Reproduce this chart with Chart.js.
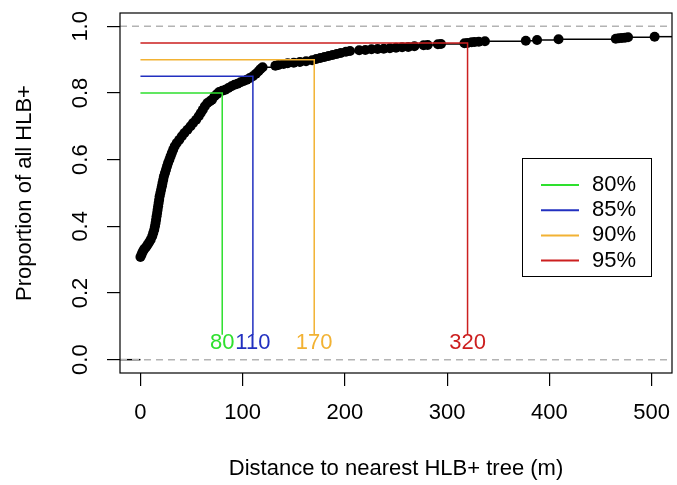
<!DOCTYPE html>
<html>
<head>
<meta charset="utf-8">
<script src="https://cdn.jsdelivr.net/npm/chart.js@4.4.0/dist/chart.umd.min.js"></script>
<style>
html, body { margin: 0; padding: 0; background: #fff; }
#wrap { width: 677px; height: 485px; }
</style>
</head>
<body>
<div id="wrap"><canvas id="ecdfChart" width="677" height="485"></canvas></div>
<script>
// ECDF of distance to nearest HLB+ tree
var distX = [0, 1, 2, 3, 4, 5.5, 7, 8.5, 10, 11.5, 12.5, 13.5, 14.2, 14.8, 15.3, 15.8, 16.3, 16.8, 17.3, 17.8,
  18.3, 18.8, 19.5, 20.2, 21, 21.6, 22.3, 23, 24, 25, 26, 27, 28.3, 29.5, 30.7, 32, 33.5, 35.5, 38, 40.5,
  43, 46, 49, 51.5, 54.5, 57, 59, 61, 63, 65.5, 68, 70, 72.5, 75, 77, 80, 83, 86, 89, 92,
  95, 98, 101, 104, 107, 110, 113, 115.5, 117.5, 119.5, 132, 135, 140, 144, 150, 156, 162, 168, 172, 176,
  180, 184, 188, 192, 196, 201, 205, 214, 220, 226, 232, 238, 244, 250, 256, 262, 268, 277, 281, 291,
  294, 317, 320, 324, 327, 331, 337, 377, 388, 409, 465, 468, 471, 474, 477, 503];
var propY = [0.308, 0.315, 0.322, 0.328, 0.333, 0.338, 0.345, 0.352, 0.36, 0.37, 0.38, 0.39, 0.40, 0.41, 0.42, 0.43, 0.44, 0.45, 0.46, 0.47,
  0.48, 0.49, 0.50, 0.51, 0.52, 0.53, 0.54, 0.55, 0.56, 0.57, 0.58, 0.59, 0.60, 0.61, 0.62, 0.63, 0.64, 0.65, 0.66, 0.67,
  0.68, 0.69, 0.70, 0.71, 0.72, 0.73, 0.74, 0.75, 0.76, 0.77, 0.775, 0.78, 0.79, 0.797, 0.803, 0.807, 0.81, 0.815, 0.82, 0.825,
  0.828, 0.832, 0.836, 0.84, 0.845, 0.85, 0.858, 0.865, 0.872, 0.877, 0.882, 0.884, 0.887, 0.889, 0.891, 0.893, 0.895, 0.898, 0.902, 0.905,
  0.908, 0.911, 0.914, 0.917, 0.92, 0.924, 0.926, 0.928, 0.929, 0.931, 0.932, 0.933, 0.934, 0.936, 0.937, 0.938, 0.94, 0.943, 0.944, 0.946,
  0.947, 0.949, 0.95, 0.952, 0.953, 0.954, 0.955, 0.957, 0.959, 0.961, 0.963, 0.964, 0.965, 0.966, 0.967, 0.969];

// percentile cut-offs
var levels = [0.80, 0.85, 0.90, 0.95];
var cutDist = [80, 110, 170, 320];
var cutLabels = ['80', '110', '170', '320'];
var legendLabels = ['80%', '85%', '90%', '95%'];
var cutColors = ['#2ee02e', '#2230c0', '#f2b233', '#cc1f1f'];

var xTicks = [0, 100, 200, 300, 400, 500];
var yTicks = [0, 0.2, 0.4, 0.6, 0.8, 1.0];
var xMin = -20, xMax = 520, yMin = -0.04, yMax = 1.04;

var FONT = 'Liberation Sans, Arial, sans-serif';
var FS = 22;

var datasets = [];

// points + step segments
datasets.push({
  data: distX.map(function (x, i) { return { x: x, y: propY[i] }; }),
  showLine: true,
  stepped: true,
  borderColor: '#000',
  borderWidth: 1.5,
  pointRadius: 5,
  pointHoverRadius: 5,
  pointBorderWidth: 0,
  pointBackgroundColor: '#000',
  order: 5
});
// tails of the step function
datasets.push({
  data: [{ x: xMin, y: 0 }, { x: distX[0], y: 0 }],
  showLine: true, borderColor: '#000', borderWidth: 1.5, pointRadius: 0, order: 5
});
datasets.push({
  data: [{ x: distX[distX.length - 1], y: propY[propY.length - 1] }, { x: xMax, y: propY[propY.length - 1] }],
  showLine: true, borderColor: '#000', borderWidth: 1.5, pointRadius: 0, order: 5
});
// gray dashed lines at 0 and 1
[0, 1].forEach(function (h) {
  datasets.push({
    data: [{ x: xMin, y: h }, { x: xMax, y: h }],
    showLine: true, borderColor: '#b3b3b3', borderWidth: 1.5, borderDash: [7, 5], pointRadius: 0, order: 4
  });
});
// percentile segments
levels.forEach(function (p, i) {
  datasets.push({
    data: [{ x: 0, y: p }, { x: cutDist[i], y: p }, { x: cutDist[i], y: 0.075 }],
    showLine: true, borderColor: cutColors[i], borderWidth: 1.5, pointRadius: 0, order: 1
  });
});

var rDecor = {
  id: 'rDecor',
  afterDatasetsDraw: function (chart) {
    var ctx = chart.ctx, a = chart.chartArea;
    var xs = chart.scales.x, ys = chart.scales.y;
    ctx.save();
    // distance labels
    ctx.font = FS + 'px ' + FONT;
    ctx.textAlign = 'center';
    ctx.textBaseline = 'middle';
    cutDist.forEach(function (d, i) {
      ctx.fillStyle = cutColors[i];
      ctx.fillText(cutLabels[i], xs.getPixelForValue(d), ys.getPixelForValue(0.05));
    });
    // legend
    var lx = a.right - 150, ly = 158, lw = 129, lh = 118;
    ctx.fillStyle = '#fff';
    ctx.fillRect(lx, ly, lw, lh);
    ctx.strokeStyle = '#000';
    ctx.lineWidth = 1;
    ctx.strokeRect(lx + 0.5, ly + 0.5, lw, lh);
    ctx.textAlign = 'left';
    legendLabels.forEach(function (t, i) {
      var y = ly + 27 + i * 25.2;
      ctx.strokeStyle = cutColors[i];
      ctx.lineWidth = 2;
      ctx.beginPath();
      ctx.moveTo(lx + 19, y);
      ctx.lineTo(lx + 57, y);
      ctx.stroke();
      ctx.fillStyle = '#000';
      ctx.fillText(t, lx + 70, y);
    });
    // box
    ctx.strokeStyle = '#000';
    ctx.lineWidth = 1.2;
    ctx.strokeRect(a.left, a.top, a.right - a.left, a.bottom - a.top);
    ctx.restore();
  }
};

var ctx = document.getElementById('ecdfChart').getContext('2d');
var ecdfChart = new Chart(ctx, {
  type: 'scatter',
  data: { datasets: datasets },
  options: {
    responsive: false,
    animation: false,
    devicePixelRatio: 1,
    events: [],
    layout: { padding: { top: 13, right: 2, left: 0, bottom: 0 } },
    plugins: { legend: { display: false }, tooltip: { enabled: false } },
    scales: {
      x: {
        type: 'linear', min: xMin, max: xMax,
        afterBuildTicks: function (s) { s.ticks = xTicks.map(function (v) { return { value: v }; }); },
        afterFit: function (s) { s.height = 112; s.paddingLeft = 0; s.paddingRight = 0; },
        grid: { drawOnChartArea: false, drawTicks: true, tickLength: 13, color: '#000', lineWidth: 1.2 },
        border: { display: false },
        ticks: { autoSkip: false, maxRotation: 0, padding: 14, color: '#000', font: { family: FONT, size: FS } },
        title: { display: true, text: 'Distance to nearest HLB+ tree (m)', color: '#000', font: { family: FONT, size: FS }, padding: { top: 0, bottom: 3 } }
      },
      y: {
        type: 'linear', min: yMin, max: yMax,
        afterBuildTicks: function (s) { s.ticks = yTicks.map(function (v) { return { value: v }; }); },
        afterFit: function (s) { s.width = 120; s.paddingTop = 0; s.paddingBottom = 0; },
        grid: { drawOnChartArea: false, drawTicks: true, tickLength: 13, color: '#000', lineWidth: 1.2 },
        border: { display: false },
        ticks: {
          autoSkip: false, minRotation: 90, maxRotation: 90, crossAlign: 'center', padding: 11,
          color: '#000', font: { family: FONT, size: FS },
          callback: function (v) { return Number(v).toFixed(1); }
        },
        title: { display: true, text: 'Proportion of all HLB+', color: '#000', font: { family: FONT, size: FS }, padding: { top: 12, bottom: 0 } }
      }
    }
  },
  plugins: [rDecor]
});
</script>
</body>
</html>
